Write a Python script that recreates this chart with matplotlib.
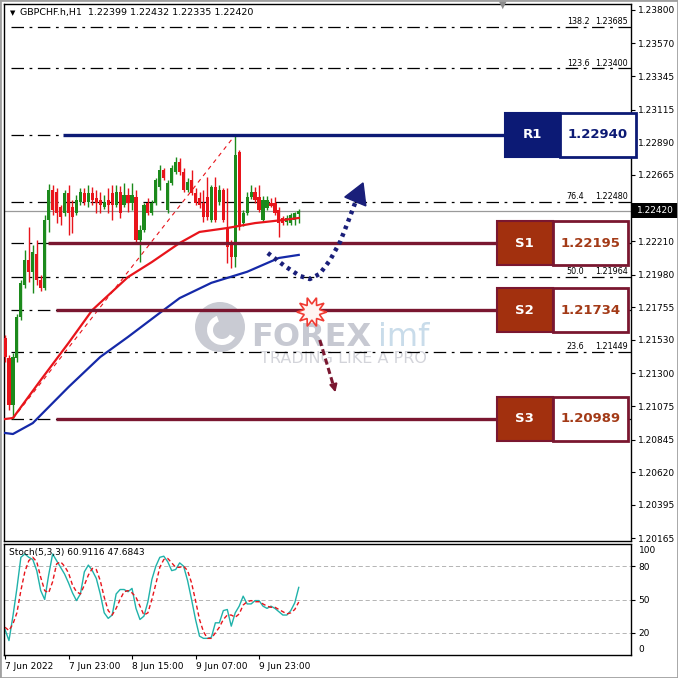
import numpy as np
import matplotlib
matplotlib.use("Agg")
import matplotlib.pyplot as plt
from matplotlib.patches import Rectangle, Polygon, Circle, Wedge
from matplotlib.transforms import blended_transform_factory

plt.rcParams['font.family'] = ['DejaVu Sans']
plt.rcParams['lines.scale_dashes'] = False

# GBPCHF H1 candles
opens = [1.21543, 1.21405, 1.21082, 1.21405, 1.21687, 1.21909, 1.22080, 1.21997, 1.22121, 1.21943,
         1.21888, 1.22355, 1.22561, 1.22547, 1.22445, 1.22403, 1.22541, 1.22445, 1.22403, 1.22479,
         1.22541, 1.22479, 1.22541, 1.22506, 1.22493, 1.22445, 1.22493, 1.22541, 1.22458, 1.22547,
         1.22458, 1.22527, 1.22472, 1.22513, 1.22218, 1.22286, 1.22472, 1.22403, 1.22472, 1.22582,
         1.22699, 1.22424, 1.22610, 1.22685, 1.22754, 1.22685, 1.22561, 1.22630, 1.22541, 1.22506,
         1.22472, 1.22513, 1.22355, 1.22582, 1.22479, 1.22561, 1.22307, 1.22197, 1.22100, 1.22823,
         1.22334, 1.22403, 1.22513, 1.22547, 1.22513, 1.22355, 1.22438, 1.22472, 1.22472, 1.22424,
         1.22369, 1.22341, 1.22334, 1.22355, 1.22399]
highs = [1.21564, 1.21426, 1.21440, 1.21708, 1.21943, 1.22148, 1.22307, 1.22183, 1.22218, 1.21977,
         1.22389, 1.22603, 1.22596, 1.22575, 1.22458, 1.22561, 1.22596, 1.22493, 1.22527, 1.22575,
         1.22575, 1.22596, 1.22582, 1.22561, 1.22547, 1.22527, 1.22575, 1.22596, 1.22596, 1.22589,
         1.22610, 1.22575, 1.22610, 1.22561, 1.22321, 1.22472, 1.22506, 1.22493, 1.22644, 1.22734,
         1.22713, 1.22630, 1.22734, 1.22789, 1.22782, 1.22713, 1.22644, 1.22699, 1.22575, 1.22547,
         1.22561, 1.22651, 1.22596, 1.22651, 1.22596, 1.22575, 1.22575, 1.22218, 1.22940, 1.22837,
         1.22424, 1.22547, 1.22596, 1.22582, 1.22596, 1.22520, 1.22520, 1.22506, 1.22513, 1.22445,
         1.22383, 1.22389, 1.22403, 1.22410, 1.22432]
lows = [1.21378, 1.21048, 1.20989, 1.21378, 1.21666, 1.21888, 1.21930, 1.21853, 1.21909, 1.21868,
        1.21874, 1.22273, 1.22389, 1.22334, 1.22321, 1.22383, 1.22252, 1.22266, 1.22389, 1.22458,
        1.22458, 1.22445, 1.22458, 1.22403, 1.22403, 1.22431, 1.22403, 1.22355, 1.22445, 1.22369,
        1.22445, 1.22410, 1.22424, 1.22197, 1.22066, 1.22273, 1.22389, 1.22389, 1.22458, 1.22561,
        1.22630, 1.22403, 1.22596, 1.22672, 1.22665, 1.22547, 1.22547, 1.22527, 1.22458, 1.22438,
        1.22341, 1.22355, 1.22341, 1.22341, 1.22458, 1.22341, 1.22059, 1.22025, 1.22032, 1.22286,
        1.22314, 1.22389, 1.22499, 1.22472, 1.22410, 1.22341, 1.22424, 1.22445, 1.22389, 1.22238,
        1.22321, 1.22321, 1.22321, 1.22321, 1.22335]
closes = [1.21412, 1.21082, 1.21412, 1.21687, 1.21923, 1.22080, 1.21997, 1.22135, 1.21943, 1.21888,
          1.22355, 1.22561, 1.22424, 1.22403, 1.22376, 1.22541, 1.22403, 1.22376, 1.22493, 1.22547,
          1.22479, 1.22541, 1.22493, 1.22472, 1.22458, 1.22479, 1.22458, 1.22458, 1.22547, 1.22403,
          1.22527, 1.22472, 1.22527, 1.22218, 1.22286, 1.22458, 1.22403, 1.22472, 1.22630, 1.22699,
          1.22644, 1.22610, 1.22713, 1.22754, 1.22685, 1.22561, 1.22617, 1.22541, 1.22472, 1.22458,
          1.22376, 1.22376, 1.22582, 1.22355, 1.22561, 1.22355, 1.22169, 1.22100, 1.22802, 1.22307,
          1.22403, 1.22513, 1.22547, 1.22493, 1.22424, 1.22493, 1.22493, 1.22452, 1.22403, 1.22334,
          1.22334, 1.22369, 1.22389, 1.22403, 1.22420]

ma_red_idx = [0, 2, 9, 16, 22, 31, 37, 44, 49, 56, 63, 70, 74]
ma_red = [1.20986, 1.20993, 1.21254, 1.21509, 1.21736, 1.21963, 1.22066, 1.22197, 1.22273,
          1.22300, 1.22334, 1.22355, 1.22369]
ma_blue_idx = [0, 2, 7, 16, 24, 31, 39, 44, 52, 61, 69, 74]
ma_blue = [1.20890, 1.20883, 1.20958, 1.21206, 1.21413, 1.21551, 1.21716, 1.21818, 1.21923,
           1.21999, 1.22094, 1.22115]

# Stochastic (5,3,3)
stoch_k = [23, 13, 35, 60, 88, 91, 88, 86, 76, 58, 50, 72, 91, 85, 79, 73, 65, 56, 49, 55,
           75, 81, 76, 69, 55, 38, 33, 36, 55, 59, 59, 57, 60, 42, 32, 35, 48, 68, 80, 88,
           89, 84, 76, 77, 83, 80, 67, 50, 32, 17, 15, 15, 16, 29, 29, 40, 41, 26, 38, 44,
           53, 46, 46, 49, 49, 44, 42, 44, 42, 39, 36, 36, 40, 47, 60.9]
stoch_d = [25, 22, 28, 38, 58, 75, 85, 88, 84, 70, 58, 56, 66, 82, 84, 80, 74, 63, 57, 55,
           63, 72, 78, 77, 67, 52, 40, 36, 42, 50, 57, 58, 56, 52, 44, 36, 38, 50, 64, 79,
           86, 87, 83, 79, 79, 80, 76, 65, 49, 32, 21, 15, 15, 20, 25, 32, 36, 36, 34, 37,
           45, 48, 49, 48, 48, 46, 44, 43, 43, 41, 39, 37, 38, 41, 47.7]

time_ticks = [0, 16, 32, 48, 64]
time_labels = ["7 Jun 2022", "7 Jun 23:00", "8 Jun 15:00", "9 Jun 07:00", "9 Jun 23:00"]
price_ticks = [1.20165, 1.20395, 1.20620, 1.20845, 1.21075, 1.21300, 1.21530, 1.21755,
               1.21980, 1.22210, 1.22665, 1.22890, 1.23115, 1.23345, 1.23570, 1.23800]

# fibonacci levels, low 1.20989 -> high 1.22940
fib_low_idx, fib_high_idx = 2, 58
fib_pct = ["0.0", "23.6", "38.2", "50.0", "61.8", "76.4", "100.0", "123.6", "138.2"]
fib_levels = [1.20989, 1.21449, 1.21734, 1.21964, 1.22195, 1.22480, 1.22940, 1.23400, 1.23685]
fib_labelled = [False, True, False, True, False, True, False, True, True]

sr_names = ["R1", "S1", "S2", "S3"]
sr_levels = [1.22940, 1.22195, 1.21734, 1.20989]
sr_start = [14.6, 10.8, 12.8, 12.8]
last_price = 1.22420

GREEN = "#1c8a1c"
RED = "#e8141b"
NAVY = "#0c1a75"
MAROON = "#7a1730"
RUST = "#a2300e"

W = H = 678.0
fig = plt.figure(figsize=(6.78, 6.78), dpi=100, facecolor="white")


def fx(px):
    return px / W


def fy(py):
    return 1 - py / H


ax = fig.add_axes([fx(4), fy(541), fx(631) - fx(4), (541 - 4) / H])
ax2 = fig.add_axes([fx(4), fy(655), fx(631) - fx(4), (655 - 544) / H])
for a in (ax, ax2):
    a.patch.set_visible(False)
    a.set_xlim(-0.25, 157.7)
    for s in a.spines.values():
        s.set_linewidth(1.0)
        s.set_color("black")

ax.set_ylim(1.20147, 1.23841)
ax.set_xticks([])
ax.yaxis.tick_right()
ax.set_yticks(price_ticks)
ax.set_yticklabels(["%.5f" % p for p in price_ticks])
ax.tick_params(axis="y", labelsize=6.5, length=3, pad=2)

# candles
x = np.arange(len(opens))
o = np.array(opens)
c = np.array(closes)
cols = np.where(c >= o, GREEN, RED)
ax.vlines(x, lows, highs, colors=cols, lw=1, zorder=3)
ax.bar(x, np.maximum(np.abs(c - o), 0.00004), bottom=np.minimum(o, c), width=0.8,
       color=cols, linewidth=0, zorder=3)

# moving averages
ax.plot(ma_red_idx, ma_red, color=RED, lw=1.6, zorder=4)
ax.plot(ma_blue_idx, ma_blue, color="#1529a8", lw=1.6, zorder=4)

# fib trend line and levels
ax.plot([fib_low_idx, fib_high_idx], [fib_levels[0], fib_levels[6]], color=RED, lw=0.8,
        ls=(0, (3, 3)), zorder=2)
ax.hlines(fib_levels, 1.5, 157.7, colors="black", lw=0.9, linestyles=[(0, (9, 4, 2, 4))], zorder=2)
for pct, lvl, show in zip(fib_pct, fib_levels, fib_labelled):
    if show:
        ax.text(141.5, lvl + 0.00004, pct, fontsize=5.8, va="bottom", ha="left", zorder=5)
        ax.text(156.9, lvl + 0.00004, "%.5f" % lvl, fontsize=5.8, va="bottom", ha="right", zorder=5)

ax.axhline(last_price, color="#9a9a9a", lw=0.9, zorder=2)

# support / resistance lines with label boxes
half = 22 * 0.0000688
for name, lvl, start in zip(sr_names, sr_levels, sr_start):
    if name == "R1":
        lc, fill, tc = NAVY, NAVY, NAVY
        x0, xs, x1 = 125.9, 139.8, 158.9
    else:
        lc, fill, tc = MAROON, RUST, "#a33a17"
        x0, xs, x1 = 123.9, 138.0, 156.9
    ax.hlines(lvl, start, x0, colors=lc, lw=2.4, zorder=4)
    ax.add_patch(Rectangle((x0, lvl - half), xs - x0, 2 * half, facecolor=fill, edgecolor=lc,
                           lw=1.5, clip_on=False, zorder=6))
    ax.add_patch(Rectangle((xs, lvl - half), x1 - xs, 2 * half, facecolor="white", edgecolor=lc,
                           lw=2, clip_on=False, zorder=6))
    ax.text((x0 + xs) / 2, lvl, name, color="white", fontsize=9.5, fontweight="bold",
            ha="center", va="center", zorder=7, clip_on=False)
    ax.text((xs + x1) / 2, lvl, "%.5f" % lvl, color=tc, fontsize=9.5, fontweight="bold",
            ha="center", va="center", zorder=7, clip_on=False)

# scenario arrows
blue_path_x = [66.2, 70.5, 74.3, 76.8, 79.3, 81.9, 84.4, 86.4, 88.2]
blue_path_y = [1.22128, 1.22038, 1.21970, 1.21949, 1.21985, 1.22080, 1.22204, 1.22342, 1.22472]
ax.plot(blue_path_x, blue_path_y, color="#1a1f7a", lw=3.2, ls=(0, (2.6, 3.2)), zorder=5)
ax.add_patch(Polygon([(85.6, 1.22513), (90.2, 1.22610), (90.9, 1.22452)], closed=True,
                     facecolor="#1a1f7a", edgecolor="#1a1f7a", zorder=5))

ax.plot([79.3, 82.8], [1.21530, 1.21210], color=MAROON, lw=2.2, ls=(0, (4.5, 2.5)), zorder=5)
ax.annotate("", xy=(83.4, 1.21151), xytext=(82.6, 1.21240),
            arrowprops=dict(arrowstyle="-|>", color=MAROON, mutation_scale=11, lw=1.5), zorder=5)

ang = np.linspace(0, 2 * np.pi, 21)[:-1]
rad = np.where(np.arange(20) % 2 == 0, 15.0, 8.0)
ax.add_patch(Polygon(np.column_stack([77.3 + rad * np.cos(ang) / 3.97,
                                      1.21722 + rad * np.sin(ang) * 0.0000688]),
                     closed=True, facecolor="#fff4f2", edgecolor="#f03a32", lw=1.2, zorder=5))

# watermark
fig.add_artist(Circle((2.20, (H - 327) / 100), 0.25, transform=fig.dpi_scale_trans,
                      facecolor="#c9cbd3", edgecolor="none", zorder=-1))
fig.add_artist(Wedge((2.22, (H - 330) / 100), 0.15, 110, 330, width=0.06,
                     transform=fig.dpi_scale_trans, facecolor="white", edgecolor="none", zorder=-1))
fig.text(fx(251), fy(346), "FOREX", fontsize=23, fontweight="bold", color="#c7c9d2",
         va="baseline", zorder=-1)
fig.text(fx(378), fy(346), "imf", fontsize=23, color="#c9dcea", va="baseline", zorder=-1)
fig.text(fx(260), fy(363), "TRADING LIKE A PRO", fontsize=11.5, color="#d3d4da",
         va="baseline", zorder=-1)

# current price tag
bt = blended_transform_factory(fig.transFigure, ax.transData)
ax.add_patch(Rectangle((fx(632), last_price - 0.00052), fx(678) - fx(632), 0.00104,
                       transform=bt, facecolor="black", edgecolor="none", clip_on=False, zorder=8))
ax.text(fx(655), last_price, "%.5f" % last_price, transform=bt, color="white", fontsize=6.5,
        ha="center", va="center", zorder=9, clip_on=False)

# header
fig.text(fx(10), fy(13), "\u25bc", fontsize=5, va="center")
fig.text(fx(20), fy(13), "GBPCHF.h,H1  1.22399 1.22432 1.22335 1.22420", fontsize=6.8, va="center")
fig.text(fx(503), fy(5), "\u25bc", fontsize=7, color="#8c8c8c", ha="center", va="center")

# stochastic panel
ax2.set_ylim(0, 100)
ax2.hlines([20, 50, 80], -0.25, 157.7, colors="#b4b4b4", lw=0.7, linestyles=[(0, (3, 2))])
ax2.plot(x, stoch_k, color="#20b2aa", lw=1.0)
ax2.plot(x, stoch_d, color=RED, lw=1.0, ls=(0, (3, 2)))
ax2.yaxis.tick_right()
ax2.set_yticks([20, 50, 80])
ax2.set_yticklabels(["20", "50", "80"])
ax2.tick_params(axis="y", labelsize=6.5, length=3, pad=2)
ax2.text(1.012, 94, "100", transform=blended_transform_factory(ax2.transAxes, ax2.transData),
         fontsize=6.5, va="center", clip_on=False)
ax2.text(1.012, 5, "0", transform=blended_transform_factory(ax2.transAxes, ax2.transData),
         fontsize=6.5, va="center", clip_on=False)
ax2.set_xticks(time_ticks)
ax2.set_xticklabels(time_labels, ha="left")
ax2.tick_params(axis="x", labelsize=6.5, length=3, pad=2)
ax2.text(0.008, 0.92, "Stoch(5,3,3) 60.9116 47.6843", transform=ax2.transAxes, fontsize=6.5,
         va="center")

fig.add_artist(Rectangle((0, 0), 1, 1, transform=fig.transFigure, fill=False,
                         edgecolor="#a0a0a0", lw=2))

fig.savefig("out.png", dpi=100)
